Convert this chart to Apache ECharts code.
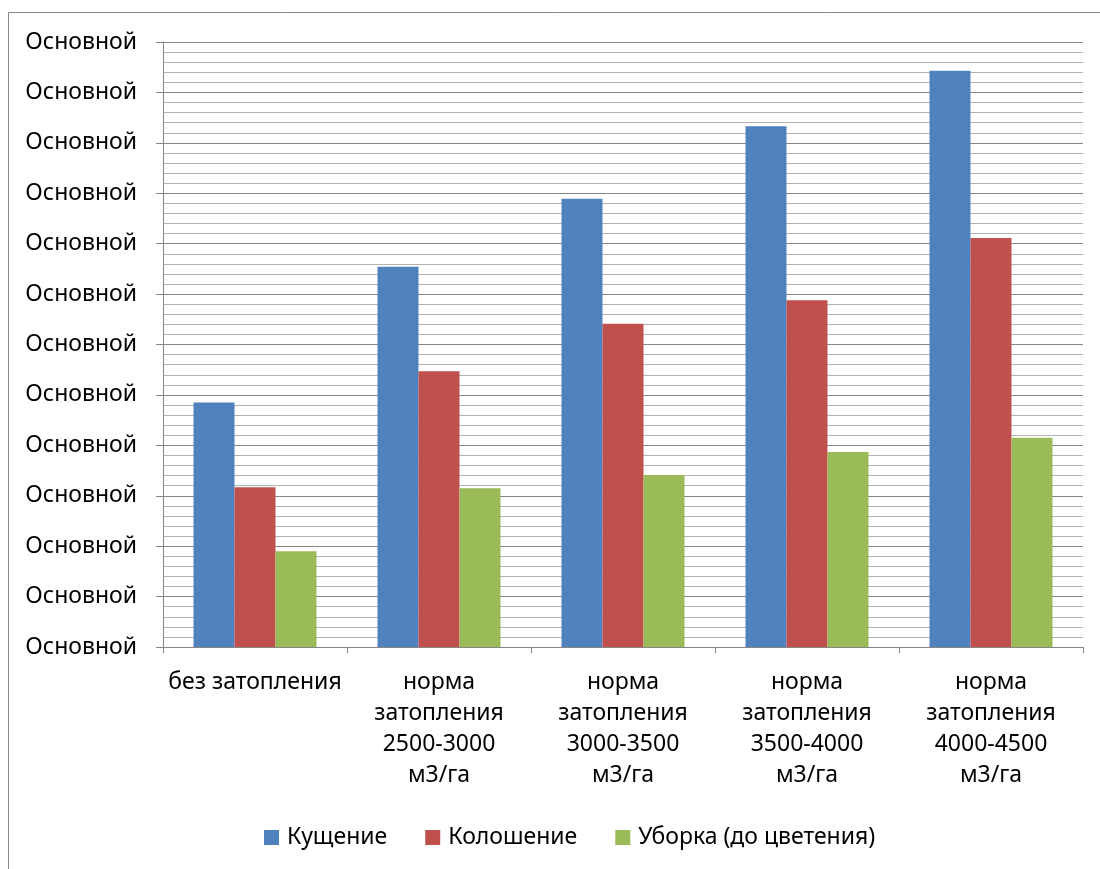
<!DOCTYPE html>
<html>
<head>
<meta charset="utf-8">
<script src="https://cdn.jsdelivr.net/npm/echarts@6/dist/echarts.min.js"></script>
<style>
  html, body { margin: 0; padding: 0; background: #fff; }
  #chart { width: 1100px; height: 869px; }
</style>
</head>
<body>
<div id="chart"></div>
<script>
// Categories (flooding rate)
const categories = [
  'без затопления',
  'норма\nзатопления\n2500-3000\nм3/га',
  'норма\nзатопления\n3000-3500\nм3/га',
  'норма\nзатопления\n3500-4000\nм3/га',
  'норма\nзатопления\n4000-4500\nм3/га'
];

// Series values by growth stage
const kushchenie = [4.85, 7.54, 8.89, 10.33, 11.43];
const koloshenie = [3.17, 5.47, 6.41, 6.88, 8.11];
const uborka     = [1.90, 3.15, 3.41, 3.87, 4.15];

const seriesNames = ['Кущение', 'Колошение', 'Уборка (до цветения)'];
const seriesColors = ['#4f81bd', '#c0504d', '#9bbb59'];

// Y tick label text (same for every tick)
const yTickLabel = 'Основной';

const FONT = 'Noto Sans';
const FS = 23;

const chart = echarts.init(document.getElementById('chart'));

chart.setOption({
  animation: false,
  backgroundColor: '#fff',
  textStyle: { fontFamily: FONT },
  graphic: [{
    type: 'rect',
    shape: { x: 8.5, y: 12.5, width: 1200, height: 1000 },
    style: { fill: 'none', stroke: '#868686', lineWidth: 1 },
    silent: true,
    z: -1
  }],
  grid: { left: 163, right: 17, top: 42, bottom: 222, containLabel: false },
  legend: {
    top: 821,
    left: 259,
    itemWidth: 15,
    itemHeight: 15,
    itemGap: 38,
    icon: 'rect',
    textStyle: { fontFamily: FONT, fontSize: FS, color: '#000', padding: [0, 0, 0, 3] },
    data: seriesNames
  },
  xAxis: {
    type: 'category',
    data: categories,
    axisLine: { lineStyle: { color: '#868686', width: 1 } },
    axisTick: { show: true, alignWithLabel: false, length: 6, lineStyle: { color: '#868686' } },
    axisLabel: {
      interval: 0,
      margin: 20,
      fontSize: FS,
      lineHeight: 31,
      color: '#000',
      fontFamily: FONT
    }
  },
  yAxis: {
    type: 'value',
    min: 0,
    max: 12,
    interval: 1,
    axisLine: { show: true, lineStyle: { color: '#868686', width: 1 } },
    axisTick: { show: true, length: 7, lineStyle: { color: '#868686' } },
    axisLabel: {
      formatter: () => yTickLabel,
      margin: 26,
      fontSize: FS,
      color: '#000',
      fontFamily: FONT
    },
    splitLine: { show: true, lineStyle: { color: '#868686', width: 1 } },
    minorTick: { show: false, splitNumber: 5 },
    minorSplitLine: { show: true, lineStyle: { color: '#b3b3b3', width: 1 } }
  },
  series: [
    { name: seriesNames[0], type: 'bar', data: kushchenie, itemStyle: { color: seriesColors[0] }, barWidth: 41, barGap: '0%' },
    { name: seriesNames[1], type: 'bar', data: koloshenie, itemStyle: { color: seriesColors[1] }, barWidth: 41, barGap: '0%' },
    { name: seriesNames[2], type: 'bar', data: uborka, itemStyle: { color: seriesColors[2] }, barWidth: 41, barGap: '0%' }
  ]
});
</script>
</body>
</html>
